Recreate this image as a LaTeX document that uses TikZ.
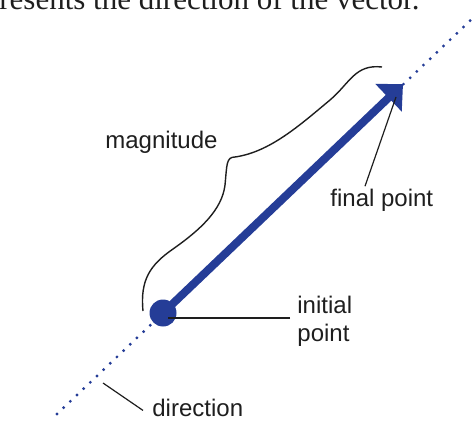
\documentclass[tikz,border=0pt]{standalone}
\usepackage{fontspec}
\setmainfont{Liberation Sans}
\newfontfamily\captionfont{Liberation Serif}
\usetikzlibrary{arrows.meta}
\definecolor{vecblue}{HTML}{253D97}
\definecolor{inkgray}{HTML}{1E1E1E}
\tikzset{
	lbl/.style={font=\fontsize{12}{14}\selectfont, text=inkgray, inner sep=0pt},
	pointer/.style={draw=inkgray, line width=0.6pt},
	dotline/.style={draw=vecblue, line width=1.6pt, line cap=round, dash pattern=on 0pt off 4.6pt},
	vector/.style={draw=vecblue, line width=4pt, -{Triangle[length=10pt, width=18.5pt]}},
	startdot/.style={circle, fill=vecblue, minimum size=13.5pt, inner sep=0pt}
}
\begin{document}
\begin{tikzpicture}[x=0.5pt, y=-0.5pt]
	\useasboundingbox (0,0) rectangle (474,421);
	
	% caption line, cut off by the top edge
	\node[anchor=base west, inner sep=0pt, text=inkgray, font=\captionfont\fontsize{15.5}{18}\selectfont] (caption) at (-1,10) {resents the direction of the vector.};
	
	% --- line of action ---
	\coordinate (lowend) at (57,414);
	\coordinate (highend) at (474,17);
	\draw[dotline] (lowend) -- (highend);
	
	% --- the vector ---
	\coordinate (tip) at (403,84);
	\node[startdot] (initial) at (163,313) {};
	\draw[vector] (initial.center) -- (tip);
	
	% --- magnitude brace ---
	\coordinate (magbottom) at (143,311);
	\coordinate (magtop) at (382,67);
	\draw[pointer, line width=0.7pt] (magbottom) .. controls (140,280) and (150,265) .. (173,249)
		.. controls (200,230) and (222,210) .. (225,185)
		.. controls (227,165) and (226,157) .. (235,157)
		.. controls (270,152) and (300,125) .. (330,100)
		.. controls (350,83) and (355,64) .. (magtop);
	
	% --- labels ---
	\node[lbl, anchor=base west] (magnitude) at (105,149) {magnitude};
	\node[lbl, anchor=base west] (final) at (330,207) {final point};
	\node[lbl, anchor=north west, align=left] (initlbl) at (297,296) {initial\\point};
	\node[lbl, anchor=base west] (direction) at (152,416) {direction};
	
	% --- pointers ---
	\coordinate (finalhook) at (396,97);
	\coordinate (initialhook) at (168,318);
	\coordinate (dirhook) at (103,383);
	\draw[pointer] ([xshift=17.5pt, yshift=1.5pt]final.north west) -- (finalhook);
	\draw[pointer] ([xshift=-3.5pt]initlbl.west |- initialhook) -- (initialhook);
	\draw[pointer] ([xshift=-4.5pt, yshift=-1.5pt]direction.west) -- (dirhook);
	
\end{tikzpicture}
\end{document}
